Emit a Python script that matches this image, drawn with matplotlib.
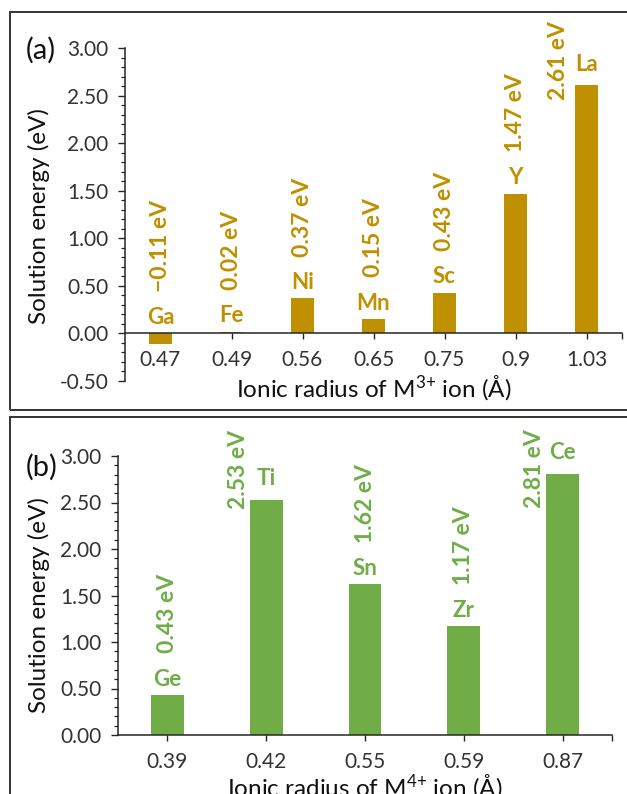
import matplotlib
matplotlib.use("Agg")
import matplotlib.pyplot as plt
from matplotlib.patches import Rectangle
from matplotlib.ticker import MultipleLocator, FixedLocator, FormatStrFormatter

plt.rcParams['font.family'] = ['Lato', 'DejaVu Sans']
plt.rcParams['mathtext.fontset'] = 'custom'
plt.rcParams['mathtext.rm'] = 'Lato'
plt.rcParams['mathtext.it'] = 'Lato:italic'
plt.rcParams['mathtext.bf'] = 'Lato:bold'

# ---- data ----
radii_a = ["0.47", "0.49", "0.56", "0.65", "0.75", "0.9", "1.03"]
ions_a = ["Ga", "Fe", "Ni", "Mn", "Sc", "Y", "La"]
energy_a = [-0.11, 0.02, 0.37, 0.15, 0.43, 1.47, 2.61]

radii_b = ["0.39", "0.42", "0.55", "0.59", "0.87"]
ions_b = ["Ge", "Ti", "Sn", "Zr", "Ce"]
energy_b = [0.43, 2.53, 1.62, 1.17, 2.81]

# label layout style (value label beside symbol instead of above)
side_a = [False, False, False, False, False, False, True]
side_b = [False, True, False, False, True]

GOLD = "#BF9000"
GREEN = "#70AD47"
AXC = "#262626"
TXT = "#333333"

fig = plt.figure(figsize=(6.27, 7.94), dpi=100)
W, H = 627, 794


def fx(px):
    return px / W


def fy(py):
    return 1 - py / H


# panel boxes
fig.patches.append(Rectangle((fx(10), fy(410)), fx(700), fy(12) - fy(410),
                             transform=fig.transFigure, fill=False,
                             edgecolor="#333333", linewidth=1.4))
fig.patches.append(Rectangle((fx(10), fy(900)), fx(700), fy(417) - fy(900),
                             transform=fig.transFigure, fill=False,
                             edgecolor="#333333", linewidth=1.4))


def fmt(v):
    s = f"{v:.2f} eV"
    return s.replace("-", "\u2212")


LBL = 16.5
SYM = 16


def panel(rect, cats, ions, vals, sides, color, ymin, ymax, xlabel, ylab_xy, xlpad):
    ax = fig.add_axes(rect)
    n = len(cats)
    xs = list(range(n))
    ax.bar(xs, vals, width=0.33, color=color, zorder=2)
    ax.set_xlim(-0.5, n - 0.5)
    ax.set_ylim(ymin, ymax)
    for s in ["top", "right"]:
        ax.spines[s].set_visible(False)
    ax.spines["bottom"].set_position(("data", 0))
    for s in ["left", "bottom"]:
        ax.spines[s].set_color(AXC)
        ax.spines[s].set_linewidth(1.1)
        ax.spines[s].set_zorder(3)
    ax.set_xticks(xs)
    ax.set_xticklabels(cats)
    ax.xaxis.set_minor_locator(FixedLocator([n - 0.5]))
    ax.yaxis.set_major_locator(MultipleLocator(0.5))
    ax.yaxis.set_minor_locator(MultipleLocator(0.1))
    ax.yaxis.set_major_formatter(FormatStrFormatter("%.2f"))
    ax.tick_params(axis="x", which="both", direction="out", length=4,
                   width=1.0, color=AXC, labelsize=15, labelcolor=TXT, pad=8)
    ax.tick_params(axis="y", which="major", direction="out", length=5,
                   width=1.0, color=AXC, labelsize=15, labelcolor=TXT, pad=7)
    ax.tick_params(axis="y", which="minor", direction="out", length=3,
                   width=0.9, color=AXC)
    ax.set_xlabel(xlabel, fontsize=17.5, color="#111111", labelpad=xlpad)
    ax.set_ylabel("Solution energy (eV)", fontsize=17.5, color="#111111")
    ax.yaxis.set_label_coords(*ylab_xy)

    for x, v, sym, side in zip(xs, vals, ions, sides):
        top = max(v, 0)
        if side:
            ax.annotate(sym, (x, top), xytext=(0, 15), textcoords="offset points",
                        ha="center", va="center", fontsize=SYM,
                        fontweight="bold", color=color)
            ax.annotate(fmt(v), (x, ymax), xytext=(-20, 19),
                        textcoords="offset points", ha="center", va="top",
                        rotation=90, fontsize=LBL, fontweight="bold",
                        color=color, annotation_clip=False)
        else:
            ax.annotate(sym, (x, top), xytext=(0, 11.5), textcoords="offset points",
                        ha="center", va="center", fontsize=SYM,
                        fontweight="bold", color=color)
            ax.annotate(fmt(v), (x, top), xytext=(0, 30),
                        textcoords="offset points", ha="center", va="bottom",
                        rotation=90, fontsize=LBL, fontweight="bold",
                        color=color)
    return ax


ax_a = panel([fx(125), fy(381), fx(622) - fx(125), fy(48) - fy(381)],
             radii_a, ions_a, energy_a, side_a, GOLD, -0.5, 3.0,
             "Ionic radius of M$^{3{+}}$ ion (Å)", (-0.15, 0.495), 2)
ax_b = panel([fx(118), fy(735), fx(612) - fx(118), fy(456) - fy(735)],
             radii_b, ions_b, energy_b, side_b, GREEN, 0.0, 3.0,
             "Ionic radius of M$^{4{+}}$ ion (Å)", (-0.138, 0.466), 0)

fig.text(fx(26), fy(50), "(a)", fontsize=21, ha="left", va="center", color="#111111")
fig.text(fx(26), fy(467), "(b)", fontsize=21, ha="left", va="center", color="#111111")

fig.savefig("out.png", dpi=100)
